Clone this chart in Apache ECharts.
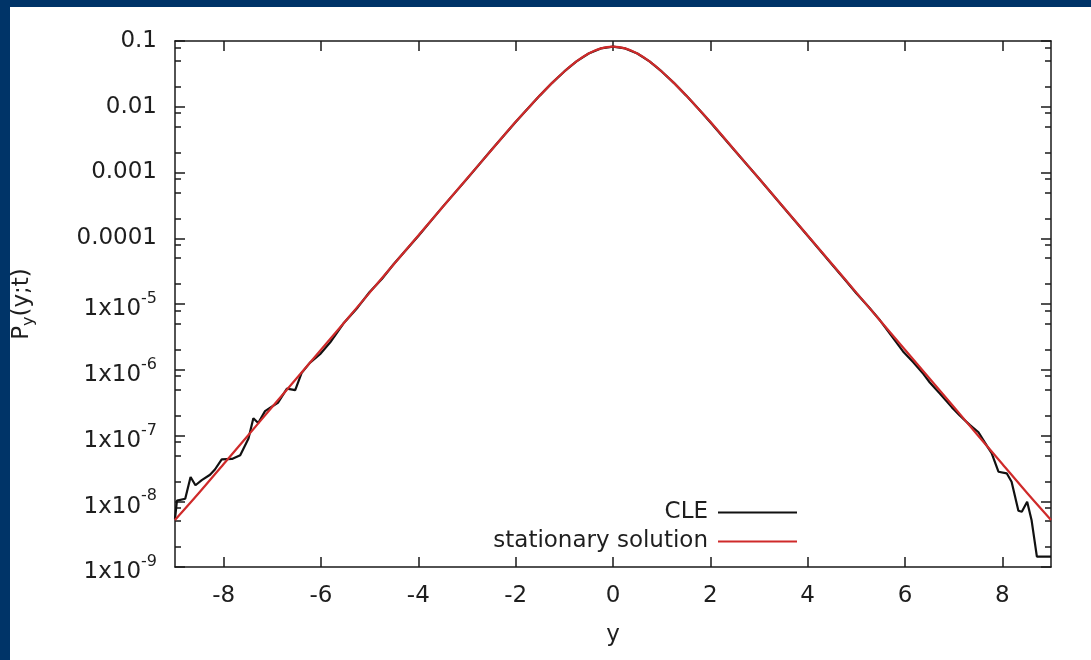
<!DOCTYPE html>
<html><head><meta charset="utf-8">
<script src="https://cdn.jsdelivr.net/npm/echarts@6/dist/echarts.min.js"></script>
<style>html,body{margin:0;padding:0;background:#fff}#c{width:1091px;height:660px}</style>
</head><body><div id="c"></div>
<script>
// ---- data ----
const xTicks = [-8, -6, -4, -2, 0, 2, 4, 6, 8];
const minorYTicks = [2e-9, 5e-9, 8e-9, 2e-8, 5e-8, 8e-8, 2e-7, 5e-7, 8e-7, 2e-6, 5e-6, 8e-6,
  2e-5, 5e-5, 8e-5, 2e-4, 5e-4, 8e-4, 2e-3, 5e-3, 8e-3, 2e-2, 5e-2, 8e-2];

const stationaryX = [-9, -8.5, -8, -7.5, -7, -6.5, -6, -5.5, -5, -4.5, -4, -3.5, -3, -2.5, -2,
  -1.75, -1.5, -1.25, -1, -0.75, -0.5, -0.25, 0, 0.25, 0.5, 0.75, 1, 1.25, 1.5, 1.75,
  2, 2.5, 3, 3.5, 4, 4.5, 5, 5.5, 6, 6.5, 7, 7.5, 8, 8.5, 9];
const stationaryP = [5.2e-9, 1.36e-8, 3.69e-8, 1.0e-7, 2.73e-7, 7.41e-7, 2.02e-6, 5.48e-6, 1.49e-5, 4.05e-5, 1.10e-4, 2.99e-4, 8.09e-4, 2.18e-3, 5.9e-3,
  9.4e-3, 1.49e-2, 2.31e-2, 3.44e-2, 4.89e-2, 6.45e-2, 7.71e-2, 8.2e-2, 7.71e-2, 6.45e-2, 4.89e-2, 3.44e-2, 2.31e-2, 1.49e-2, 9.4e-3,
  5.9e-3, 2.18e-3, 8.09e-4, 2.99e-4, 1.10e-4, 4.05e-5, 1.49e-5, 5.48e-6, 2.02e-6, 7.41e-7, 2.73e-7, 1.0e-7, 3.69e-8, 1.36e-8, 5.2e-9];

const cleX = [-9.0, -8.96, -8.79, -8.68, -8.58, -8.45, -8.28, -8.18, -8.04, -7.83, -7.66, -7.49, -7.39, -7.29, -7.15,
  -6.88, -6.70, -6.53, -6.40, -6.23, -6.02, -5.81, -5.54, -5.25, -5.0, -4.75, -4.5, -4.0, -3.5, -3.0, -2.5, -2.0,
  -1.75, -1.5, -1.25, -1, -0.75, -0.5, -0.25, 0, 0.25, 0.5, 0.75, 1, 1.25, 1.5, 1.75,
  2.0, 2.5, 3.0, 3.5, 4.0, 4.5, 4.75, 5.0, 5.25, 5.49, 5.96, 6.17, 6.38, 6.51, 6.72, 6.96, 7.13, 7.33, 7.51,
  7.68, 7.78, 7.92, 8.09, 8.19, 8.33, 8.40, 8.51, 8.60, 8.71, 9.0];
const cleP = [5.4e-9, 1.02e-8, 1.09e-8, 2.34e-8, 1.75e-8, 2.10e-8, 2.53e-8, 3.04e-8, 4.34e-8, 4.40e-8, 5.0e-8, 9.0e-8, 1.83e-7, 1.55e-7, 2.35e-7,
  3.18e-7, 5.15e-7, 4.9e-7, 8.9e-7, 1.27e-6, 1.72e-6, 2.62e-6, 5.05e-6, 8.8e-6, 1.52e-5, 2.40e-5, 4.1e-5, 1.08e-4, 3.0e-4, 8.0e-4, 2.2e-3, 5.85e-3,
  9.4e-3, 1.49e-2, 2.31e-2, 3.44e-2, 4.89e-2, 6.45e-2, 7.71e-2, 8.2e-2, 7.71e-2, 6.45e-2, 4.89e-2, 3.44e-2, 2.31e-2, 1.49e-2, 9.4e-3,
  5.8e-3, 2.16e-3, 8.1e-4, 2.97e-4, 1.09e-4, 4.0e-5, 2.42e-5, 1.46e-5, 9.1e-6, 5.6e-6, 1.9e-6, 1.3e-6, 8.6e-7, 6.4e-7, 4.3e-7, 2.7e-7, 2.0e-7, 1.45e-7, 1.12e-7,
  7.0e-8, 5.4e-8, 2.81e-8, 2.66e-8, 1.98e-8, 7.18e-9, 6.93e-9, 9.8e-9, 5.2e-9, 1.44e-9, 1.44e-9];

// ---- chart ----
const FONT = 'DejaVu Sans';
const FS = 23;
const TXT = '#1e1e1e';
const AX = '#1a1a1a';
const NAVY = '#003468';

function yLabel(v) {
  const e = Math.round(v);
  if (e >= -4) return '0.' + '0'.repeat(-e - 1) + '1';
  return '{b|1x10}{s|' + e + '}';
}

const chart = echarts.init(document.getElementById('c'), null, {renderer: 'canvas'});
const axLine = {color: AX, width: 1.5};

const majorY = (pos, labels) => ({
  type: 'value', position: pos, min: -9, max: -1, interval: 1,
  axisLine: {show: pos === 'right', onZero: false, lineStyle: axLine},
  axisTick: {show: true, inside: true, length: 10, lineStyle: axLine},
  axisLabel: labels ? {
    show: true, margin: 18, fontSize: FS, fontFamily: FONT, color: TXT,
    formatter: yLabel,
    rich: {
      b: {fontSize: FS, lineHeight: FS, verticalAlign: 'bottom', fontFamily: FONT, color: TXT},
      s: {fontSize: 16, verticalAlign: 'top', padding: [4, 0, 14, 0], fontFamily: FONT, color: TXT}
    }
  } : {show: false},
  splitLine: {show: false}
});
const minorY = (pos) => ({
  type: 'value', position: pos, min: -9, max: -1,
  axisLine: {show: false, onZero: false},
  axisTick: {show: true, inside: true, length: 6, lineStyle: axLine,
    customValues: minorYTicks.map(v => Math.log10(v))},
  axisLabel: {show: false},
  splitLine: {show: false}
});

const legendBase = {
  orient: 'vertical', align: 'right', right: 294, padding: 0, itemGap: 0,
  icon: 'rect', itemWidth: 79, itemHeight: 2, selectedMode: false,
  textStyle: {fontSize: FS, fontFamily: FONT, color: TXT, padding: [0, 5, 0, 0]}
};

chart.setOption({
  animation: false,
  backgroundColor: '#ffffff',
  grid: {left: 175, right: 40, top: 41, bottom: 93, outerBoundsMode: 'none', containLabel: false},
  graphic: [
    {type: 'rect', shape: {x: 0, y: 0, width: 1091, height: 7}, style: {fill: NAVY}, silent: true},
    {type: 'rect', shape: {x: 0, y: 0, width: 10, height: 660}, style: {fill: NAVY}, silent: true},
    {type: 'text', x: 24, y: 304, rotation: Math.PI / 2, silent: true,
      style: {text: '{a|P}{sub|y}{a|(y;t)}', align: 'center', verticalAlign: 'middle',
        rich: {
          a: {fontSize: FS, lineHeight: FS, verticalAlign: 'top', fontFamily: FONT, fill: TXT, color: TXT},
          sub: {fontSize: 16, verticalAlign: 'bottom', padding: [10, 0, 0, 0], fontFamily: FONT, fill: TXT, color: TXT}
        }}}
  ],
  legend: [
    Object.assign({}, legendBase, {data: ['CLE'], top: 501}),
    Object.assign({}, legendBase, {data: ['stationary solution'], top: 530})
  ],
  xAxis: [
    {type: 'value', position: 'bottom', min: -9, max: 9,
      name: 'y', nameLocation: 'middle', nameGap: 57,
      nameTextStyle: {fontSize: FS, fontFamily: FONT, color: TXT},
      axisLine: {show: true, onZero: false, lineStyle: axLine},
      axisTick: {show: true, inside: true, length: 10, lineStyle: axLine, customValues: xTicks},
      axisLabel: {show: true, margin: 18, fontSize: FS, fontFamily: FONT, color: TXT, customValues: xTicks},
      splitLine: {show: false}},
    {type: 'value', position: 'top', min: -9, max: 9,
      axisLine: {show: true, onZero: false, lineStyle: axLine},
      axisTick: {show: true, inside: true, length: 10, lineStyle: axLine, customValues: xTicks},
      axisLabel: {show: false},
      splitLine: {show: false}}
  ],
  yAxis: [
    {type: 'log', logBase: 10, position: 'left', min: 1e-9, max: 0.1,
      axisLine: {show: true, onZero: false, lineStyle: axLine},
      axisTick: {show: false}, axisLabel: {show: false}, splitLine: {show: false}, minorTick: {show: false}},
    majorY('left', true),
    minorY('left'),
    majorY('right', false),
    minorY('right')
  ],
  series: [
    {type: 'line', name: 'CLE', xAxisIndex: 0, yAxisIndex: 0, z: 2,
      data: cleX.map((x, i) => [x, cleP[i]]),
      showSymbol: false, symbol: 'none', color: '#111111',
      lineStyle: {color: '#111111', width: 2.2}},
    {type: 'line', name: 'stationary solution', xAxisIndex: 0, yAxisIndex: 0, z: 3,
      data: stationaryX.map((x, i) => [x, stationaryP[i]]),
      smooth: 0.3, showSymbol: false, symbol: 'none', color: '#cf2a2a',
      lineStyle: {color: '#cf2a2a', width: 2.2}}
  ]
});
</script></body></html>
